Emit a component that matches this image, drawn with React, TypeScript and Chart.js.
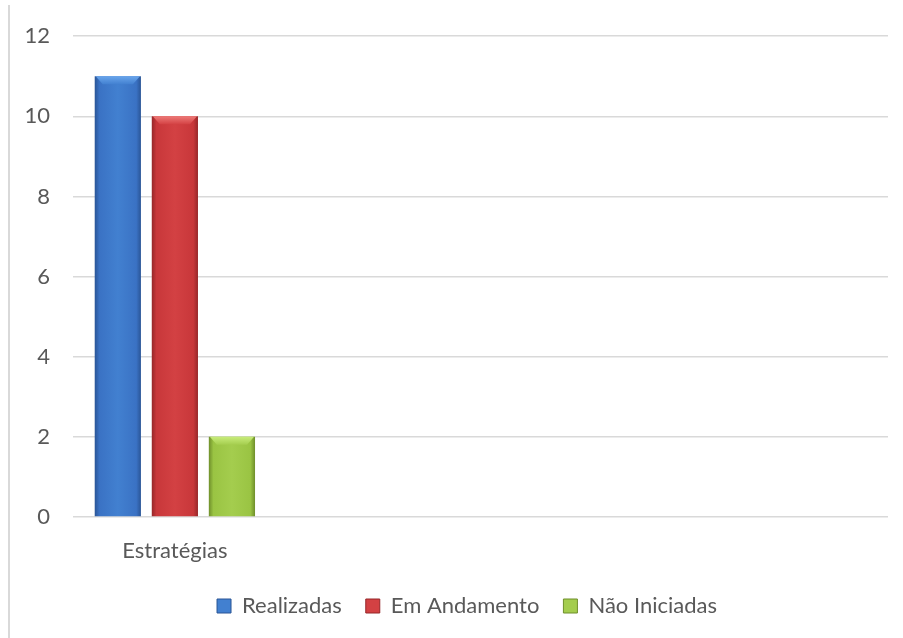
import React, { useEffect, useRef } from "react";
import { Chart, registerables } from "chart.js";

Chart.register(...registerables);

const categories = ["Estratégias", "", "", ""];
const seriesNames = ["Realizadas", "Em Andamento", "Não Iniciadas"];
const realizadas = [11, null, null, null];
const emAndamento = [10, null, null, null];
const naoIniciadas = [2, null, null, null];
const yTicks = [0, 2, 4, 6, 8, 10, 12];

const baseColors = ["#3a72c4", "#c8373a", "#9ac443"];
const edgeColors = ["#2a5596", "#962729", "#6f8f2b"];
const lightColors = ["#4280d0", "#d34143", "#a4cd4e"];
const topColors = ["#6aa6ec", "#ee7a78", "#c8ec7a"];

const FONT = "Lato, 'Open Sans', sans-serif";
const TEXT = "#595959";

function barGeom(chart: any, el: any) {
  const p = el.getProps(["x", "y", "base", "width"], true);
  let w = p.width;
  if (!w || !isFinite(w)) {
    const xs = chart.scales.x;
    w = ((xs.width / categories.length) * 0.84 / 3) * 0.81;
  }
  return { x: p.x, y: p.y, base: p.base, w };
}

function validBars(chart: any, di: number) {
  const meta = chart.getDatasetMeta(di);
  const data = chart.data.datasets[di].data;
  return meta.data.filter((el: any, i: number) => el && data[i] != null);
}

const gradientPlugin = {
  id: "barGradient",
  beforeDatasetsDraw(chart: any) {
    const ctx = chart.ctx;
    chart.data.datasets.forEach((_: any, di: number) => {
      validBars(chart, di).forEach((el: any) => {
        const { x, w } = barGeom(chart, el);
        if (x == null || !isFinite(x)) return;
        const g = ctx.createLinearGradient(x - w / 2, 0, x + w / 2, 0);
        g.addColorStop(0, edgeColors[di]);
        g.addColorStop(0.1, baseColors[di]);
        g.addColorStop(0.5, lightColors[di]);
        g.addColorStop(0.9, baseColors[di]);
        g.addColorStop(1, edgeColors[di]);
        el.options.backgroundColor = g;
      });
    });
  },
  afterDatasetsDraw(chart: any) {
    const ctx = chart.ctx;
    chart.data.datasets.forEach((_: any, di: number) => {
      validBars(chart, di).forEach((el: any) => {
        const { x, y, base, w } = barGeom(chart, el);
        if (x == null || !isFinite(x) || !isFinite(y) || base - y < 12) return;
        const l = x - w / 2;
        const r = x + w / 2;
        const b = 8;
        ctx.save();
        const g = ctx.createLinearGradient(0, y, 0, y + b);
        g.addColorStop(0, topColors[di]);
        g.addColorStop(1, lightColors[di]);
        ctx.fillStyle = g;
        ctx.beginPath();
        ctx.moveTo(l + 1, y);
        ctx.lineTo(r - 1, y);
        ctx.lineTo(r - b, y + b);
        ctx.lineTo(l + b, y + b);
        ctx.closePath();
        ctx.fill();
        ctx.restore();
      });
    });
  },
};

const framePlugin = {
  id: "frame",
  afterLayout(chart: any) {
    if (chart.legend) {
      chart.legend.left += 23;
      chart.legend.right += 23;
    }
  },
  beforeDraw(chart: any) {
    const ctx = chart.ctx;
    ctx.save();
    ctx.strokeStyle = "#d9d9d9";
    ctx.lineWidth = 2;
    ctx.beginPath();
    ctx.moveTo(9, 5);
    ctx.lineTo(9, chart.height);
    ctx.stroke();
    ctx.restore();
  },
};

export default function App() {
  const ref = useRef<HTMLCanvasElement | null>(null);
  useEffect(() => {
    if (!ref.current) return;
    const chart = new Chart(ref.current, {
      type: "bar",
      data: {
        labels: categories,
        datasets: [
          { label: seriesNames[0], data: realizadas, backgroundColor: baseColors[0], borderWidth: 0 },
          { label: seriesNames[1], data: emAndamento, backgroundColor: baseColors[1], borderWidth: 0 },
          { label: seriesNames[2], data: naoIniciadas, backgroundColor: baseColors[2], borderWidth: 0 },
        ],
      },
      options: {
        animation: false,
        responsive: false,
        maintainAspectRatio: false,
        layout: { padding: { left: 0, right: 15, top: 18, bottom: 11 } },
        datasets: { bar: { categoryPercentage: 0.84, barPercentage: 0.81 } },
        scales: {
          x: {
            grid: { display: false },
            border: { display: false },
            afterFit(scale: any) {
              scale.height = 54;
            },
            ticks: { color: TEXT, font: { family: FONT, size: 22 }, padding: 13 },
          },
          y: {
            min: 0,
            max: 12,
            afterBuildTicks(scale: any) {
              scale.ticks = yTicks.map((v) => ({ value: v }));
            },
            afterFit(scale: any) {
              scale.width = 73;
            },
            grid: { color: "#d9d9d9", lineWidth: 1.5, drawTicks: false },
            border: { display: false },
            ticks: { color: TEXT, font: { family: FONT, size: 22 }, padding: 23 },
          },
        },
        plugins: {
          legend: {
            position: "bottom",
            labels: {
              color: TEXT,
              font: { family: FONT, size: 22 },
              boxWidth: 14,
              boxHeight: 14,
              padding: 24,
              generateLabels(chart: any) {
                return chart.data.datasets.map((ds: any, i: number) => ({
                  text: ds.label,
                  fillStyle: lightColors[i],
                  strokeStyle: edgeColors[i],
                  lineWidth: 1,
                  fontColor: TEXT,
                  datasetIndex: i,
                  hidden: false,
                }));
              },
            },
          },
          tooltip: { enabled: false },
        },
      },
      plugins: [gradientPlugin, framePlugin],
    });
    return () => chart.destroy();
  }, []);
  return (
    <div style={{ position: "absolute", left: 0, top: 0, width: 903, height: 638, background: "#fff" }}>
      <canvas ref={ref} width={903} height={638} style={{ width: 903, height: 638 }} />
    </div>
  );
}
